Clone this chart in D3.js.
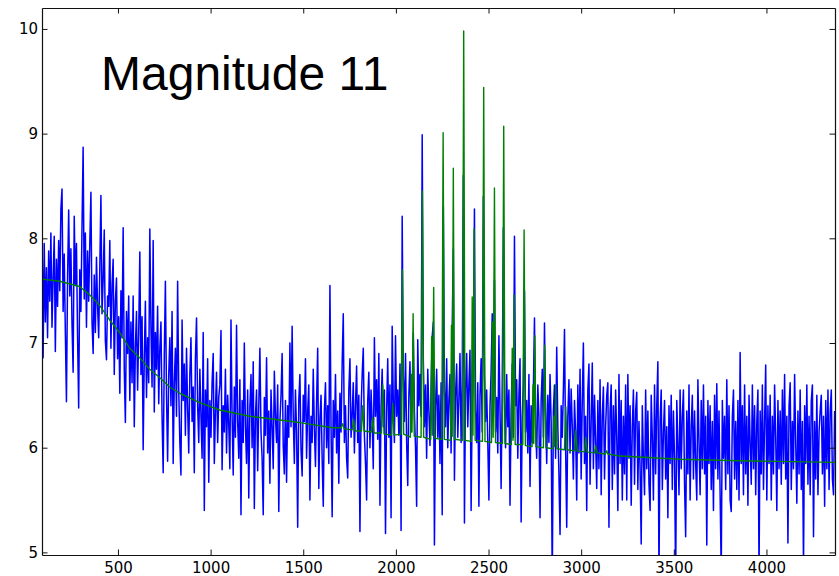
<!DOCTYPE html>
<html>
<head>
<meta charset="utf-8">
<script src="https://cdn.jsdelivr.net/npm/d3@7"></script>
<style>
  body { margin: 0; background: #fff; }
  svg { display: block; }
</style>
</head>
<body>
<svg id="chart" width="839" height="576"></svg>
<script>
// Observed spectrum: evenly spaced frequency bins starting at freqStart
const freqStart = 90;
const freqStep = 6;
const power = [
  8.10,6.86,7.95,7.20,7.72,7.05,7.88,7.40,8.05,7.15,7.62,8.02,6.92,7.80,7.35,7.98,7.50,8.28,8.47,7.30,
  7.85,7.10,6.44,7.62,8.27,7.45,7.90,7.18,6.72,8.21,7.55,7.95,7.05,6.38,7.70,7.30,8.12,8.87,7.42,8.05,
  7.15,7.88,7.40,7.95,8.44,7.20,6.90,7.65,7.10,7.82,7.35,7.05,7.72,8.41,7.28,7.60,8.08,7.02,6.84,7.45,
  7.35,7.98,6.95,7.55,7.80,6.70,7.40,7.62,6.85,7.25,6.52,7.50,7.05,8.10,6.75,6.24,7.30,6.90,7.45,6.45,
  7.20,6.62,7.45,6.20,6.95,7.30,6.55,7.10,7.87,6.70,7.25,5.98,6.85,7.40,6.48,7.05,6.62,8.09,7.15,6.58,
  7.98,6.34,7.10,6.75,7.35,6.42,6.95,7.20,6.30,5.76,6.88,7.59,6.50,5.87,6.70,7.05,6.40,7.30,5.85,6.62,
  6.95,6.30,7.59,6.55,6.05,5.74,7.22,6.45,6.80,6.12,6.95,6.38,5.95,6.70,7.05,6.25,6.58,5.76,6.85,7.24,
  6.40,6.05,6.75,6.30,5.90,7.10,5.40,6.55,6.20,6.85,5.67,6.45,6.10,6.62,6.90,5.85,6.35,6.72,6.05,6.48,
  6.60,7.12,5.79,6.40,6.15,6.75,5.95,6.50,6.22,5.80,7.22,6.30,5.74,6.58,6.10,7.17,6.25,5.90,6.65,5.36,
  6.45,6.05,7.00,6.20,5.85,6.55,5.52,6.38,6.70,6.00,6.82,5.42,6.30,6.55,5.78,6.40,6.95,6.15,5.90,5.36,
  6.48,6.12,6.86,5.95,6.35,5.66,6.55,6.20,5.80,6.73,6.30,6.05,6.60,5.39,6.25,6.50,6.90,6.02,5.75,6.45,
  5.67,6.40,6.10,7.00,6.20,7.16,6.30,5.85,6.55,6.15,5.24,6.45,6.70,5.98,5.73,6.50,6.25,6.85,5.90,6.35,
  6.60,5.50,6.30,6.05,6.75,6.18,5.82,6.45,6.95,5.61,6.28,6.50,5.90,5.44,6.35,6.62,6.00,6.40,5.85,7.55,
  6.20,5.34,6.45,6.10,6.70,5.95,6.35,5.66,6.52,6.15,6.80,7.28,6.05,6.40,5.90,5.71,6.55,6.85,6.10,6.30,
  6.62,5.95,6.40,6.78,6.05,6.50,5.20,6.35,6.70,6.95,6.12,5.85,5.50,6.45,6.72,6.00,6.55,6.25,5.80,7.05,
  6.30,6.65,6.08,6.90,5.45,6.40,6.75,6.20,6.55,5.18,6.35,6.85,6.10,6.60,5.33,7.16,6.45,6.05,7.07,6.30,
  6.55,6.12,6.80,5.21,8.21,6.70,6.25,6.90,6.05,5.64,6.50,6.82,6.15,6.45,7.10,6.35,6.00,5.44,7.03,6.40,
  6.70,6.30,8.99,6.85,6.20,6.60,5.90,6.75,6.35,6.02,6.55,7.06,7.20,5.07,6.40,6.75,6.10,6.50,5.85,6.62,
  5.36,8.30,6.55,6.20,6.85,6.00,6.45,6.70,5.95,7.14,7.90,5.69,6.50,6.80,6.10,6.45,6.90,6.05,6.60,8.60,
  5.28,6.55,6.90,6.20,6.60,6.93,5.40,6.45,6.75,8.28,6.35,6.05,6.62,5.44,6.50,6.85,6.15,8.40,6.70,6.25,
  6.55,6.05,5.50,6.40,6.72,7.28,6.30,7.60,6.15,6.48,5.95,7.07,6.35,5.61,6.60,8.10,6.45,6.00,6.70,6.20,
  6.55,5.45,6.35,6.80,6.10,8.02,6.40,6.65,5.90,6.50,6.85,5.29,6.30,6.60,7.50,6.15,6.45,5.95,6.70,5.63,
  6.40,6.05,6.55,7.24,6.20,5.90,6.60,6.30,5.33,6.45,6.75,6.10,7.19,6.35,5.85,6.50,6.05,6.70,6.25,4.70,
  6.35,6.60,5.90,6.96,6.20,5.75,5.17,6.40,6.10,6.55,7.13,6.00,5.24,6.30,6.65,5.95,6.56,6.20,5.70,6.45,
  6.15,5.50,6.60,5.95,6.75,5.70,6.45,7.00,5.85,6.30,5.40,6.55,6.80,5.65,6.25,6.81,5.80,6.50,6.05,5.61,
  6.45,5.80,6.65,5.55,6.30,6.58,5.70,6.20,6.50,6.62,5.24,6.35,6.60,5.60,6.40,5.75,6.55,6.10,5.40,6.70,
  5.85,6.45,5.50,6.30,5.75,6.60,5.50,6.70,5.90,6.40,5.45,6.20,6.55,5.65,6.35,6.53,5.60,6.25,5.80,5.08,
  6.40,5.90,5.55,6.55,5.80,6.35,5.65,5.40,6.50,6.10,5.50,6.60,5.75,6.40,6.82,4.75,6.25,6.55,5.60,6.15,
  6.45,5.70,6.20,5.33,6.40,5.85,6.50,5.60,6.35,5.90,4.70,6.45,6.05,5.55,6.55,5.80,6.30,6.55,5.65,5.15,
  6.35,5.75,6.60,5.50,6.20,6.50,5.70,6.35,5.85,5.50,6.65,6.05,5.55,6.45,5.80,6.60,5.75,6.30,5.07,6.45,
  5.85,6.40,5.60,6.25,5.40,6.50,5.80,6.61,5.70,6.35,5.55,4.80,6.45,5.90,6.30,5.60,6.65,5.75,6.40,5.50,
  5.39,6.30,6.55,5.70,6.25,5.60,6.45,5.50,6.91,5.85,6.40,5.55,6.60,5.75,6.30,5.45,6.50,6.05,5.65,6.60,
  5.80,6.40,5.55,6.25,6.55,4.80,6.35,5.75,6.60,5.60,6.25,6.79,5.50,6.40,5.85,6.50,5.50,6.30,5.75,6.60,
  6.10,5.40,6.45,5.80,6.35,5.65,6.55,5.85,6.70,5.70,6.30,5.09,6.40,6.62,5.60,6.25,5.80,6.70,6.05,5.47,
  6.35,5.75,6.55,5.60,6.25,4.85,6.40,5.85,6.60,5.65,6.30,5.55,6.45,6.60,5.15,6.25,5.70,6.50,5.55,6.15,
  6.35,6.50,5.75,6.30,5.44,6.45,5.80,6.55,5.60,6.35,6.55,5.70,5.55,6.35
];

// Fitted model: smooth background with the oscillation mode peaks, as [frequency, value] vertices
const modelPoints = [
  [90,7.61],[185,7.59],[293,7.54],[347,7.46],[401,7.36],[455,7.22],[509,7.10],[563,6.95],
  [617,6.86],[671,6.75],[725,6.67],[779,6.58],[833,6.52],[941,6.43],[1049,6.36],[1211,6.30],
  [1481,6.24],[1659,6.19],
  [1705,6.19],[1713,6.23],[1721,6.18],
  [1764,6.17],[1772,6.27],[1780,6.16],
  [1814,6.16],[1821,6.40],[1828,6.16],
  [1868,6.15],[1875,6.29],[1882,6.14],
  [1922,6.14],[1929,6.60],[1936,6.13],
  [1976,6.12],[1983,6.42],[1990,6.12],
  [2028,6.13],[2035,7.70],[2042,6.13],
  [2078,6.10],[2083,6.70],[2087,6.15],[2093,7.28],[2099,6.11],
  [2136,6.10],[2143,8.45],[2150,6.10],
  [2188,6.08],[2193,7.06],[2197,6.12],[2204,7.53],[2210,6.09],
  [2248,6.08],[2255,9.01],[2262,6.08],
  [2295,6.07],[2300,7.17],[2304,6.11],[2310,8.67],[2316,6.08],
  [2359,6.07],[2366,9.98],[2373,6.07],
  [2407,6.06],[2412,7.44],[2416,6.12],[2422,8.09],[2428,6.07],
  [2467,6.06],[2474,9.44],[2481,6.06],
  [2516,6.05],[2521,7.20],[2525,6.10],[2532,8.48],[2538,6.05],
  [2575,6.04],[2582,9.07],[2589,6.04],
  [2623,6.03],[2628,6.95],[2632,6.07],[2638,7.46],[2644,6.03],
  [2685,6.03],[2692,8.08],[2699,6.02],
  [2735,6.01],[2740,6.60],[2744,6.04],[2750,7.07],[2756,6.01],
  [2796,6.00],[2803,6.98],[2810,6.00],
  [2848,5.99],[2853,6.30],[2857,6.01],[2863,6.60],[2869,5.99],
  [2910,5.98],[2917,6.39],[2924,5.98],
  [2964,5.97],[2971,6.17],[2978,5.97],
  [3018,5.96],[3025,6.10],[3032,5.96],
  [3072,5.95],[3079,6.02],[3086,5.95],
  [3130,5.94],[3137,5.97],[3144,5.94],
  [3209,5.92],[3533,5.89],[3857,5.875],[4370,5.86]
];

const xTicks = [500, 1000, 1500, 2000, 2500, 3000, 3500, 4000];
const yTicks = [5, 6, 7, 8, 9, 10];
const xDomain = [90, 4370];
const yDomain = [4.975, 10.2];
const titleText = "Magnitude 11";

const svg = d3.select("#chart");
const frame = { left: 42, right: 835, top: 8, bottom: 555 };

const x = d3.scaleLinear().domain(xDomain).range([frame.left, frame.right]);
const y = d3.scaleLinear().domain(yDomain).range([frame.bottom, frame.top]);

svg.append("defs").append("clipPath").attr("id", "plot-clip")
  .append("rect")
  .attr("x", frame.left).attr("y", frame.top)
  .attr("width", frame.right - frame.left)
  .attr("height", frame.bottom - frame.top);

const spectrum = power.map((v, i) => [freqStart + i * freqStep, v]);

const line = d3.line().x(d => x(d[0])).y(d => y(d[1]));

const plotArea = svg.append("g").attr("clip-path", "url(#plot-clip)");

plotArea.append("path")
  .datum(spectrum)
  .attr("d", line)
  .attr("fill", "none")
  .attr("stroke", "#0000ff")
  .attr("stroke-width", 1.5)
  .attr("stroke-linejoin", "round");

plotArea.append("path")
  .datum(modelPoints)
  .attr("d", line)
  .attr("fill", "none")
  .attr("stroke", "#008000")
  .attr("stroke-width", 1.4)
  .attr("stroke-linejoin", "round");

// Axes: ticks point inward on all four sides, labels on bottom and left only
const tickLen = 5.5;
const fmt = d3.format("d");

const gBottom = svg.append("g").attr("transform", `translate(0,${frame.bottom})`)
  .call(d3.axisBottom(x).tickValues(xTicks).tickSizeInner(-tickLen).tickSizeOuter(0)
    .tickPadding(7.5).tickFormat(fmt));
const gLeft = svg.append("g").attr("transform", `translate(${frame.left},0)`)
  .call(d3.axisLeft(y).tickValues(yTicks).tickSizeInner(-tickLen).tickSizeOuter(0)
    .tickPadding(4).tickFormat(fmt));
const gTop = svg.append("g").attr("transform", `translate(0,${frame.top})`)
  .call(d3.axisTop(x).tickValues(xTicks).tickSizeInner(-tickLen).tickSizeOuter(0)
    .tickFormat(() => ""));
const gRight = svg.append("g").attr("transform", `translate(${frame.right},0)`)
  .call(d3.axisRight(y).tickValues(yTicks).tickSizeInner(-tickLen).tickSizeOuter(0)
    .tickFormat(() => ""));

[gBottom, gLeft, gTop, gRight].forEach(g => {
  g.select(".domain").attr("stroke", "#111").attr("stroke-width", 1.2);
  g.selectAll(".tick line").attr("stroke", "#111").attr("stroke-width", 1);
  g.selectAll(".tick text")
    .attr("fill", "#000")
    .style("font-family", "'DejaVu Sans', sans-serif")
    .style("font-size", "15px");
});

svg.append("text")
  .attr("x", 101)
  .attr("y", 90)
  .attr("fill", "#000")
  .style("font-family", "'Liberation Sans', Arial, sans-serif")
  .style("font-size", "48px")
  .text(titleText);
</script>
</body>
</html>
